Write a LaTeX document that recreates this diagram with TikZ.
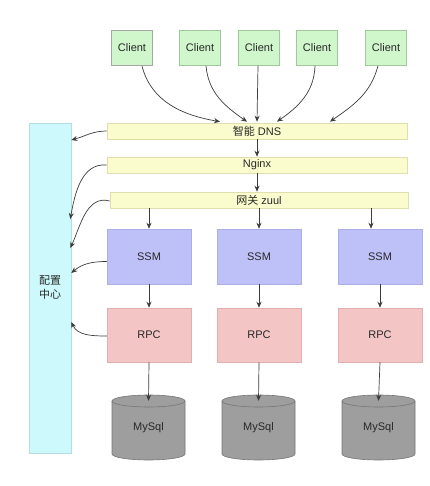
\documentclass[tikz,border=0pt]{standalone}
\usepackage{fontspec}
\setmainfont{Liberation Sans}
\newfontfamily\cjk{Noto Sans CJK SC}
\usetikzlibrary{arrows.meta}
\definecolor{clientfill}{RGB}{208,246,204}
\definecolor{clientline}{RGB}{160,200,155}
\definecolor{barfill}{RGB}{251,252,205}
\definecolor{barline}{RGB}{222,222,175}
\definecolor{cfgfill}{RGB}{206,249,252}
\definecolor{cfgline}{RGB}{180,222,228}
\definecolor{ssmfill}{RGB}{190,192,248}
\definecolor{ssmline}{RGB}{172,174,232}
\definecolor{rpcfill}{RGB}{244,197,197}
\definecolor{rpcline}{RGB}{226,175,175}
\definecolor{dbfill}{RGB}{158,158,158}
\definecolor{dbline}{RGB}{118,118,118}
\definecolor{txt}{RGB}{40,40,40}
\definecolor{arr}{RGB}{60,60,60}
\tikzset{
  every node/.style={font=\fontsize{11}{14}\selectfont, text=txt},
  clientbox/.style={draw=clientline, fill=clientfill, line width=0.6pt, minimum width=41pt, minimum height=35pt, inner sep=0pt},
  barbox/.style={draw=barline, fill=barfill, line width=0.6pt, minimum height=16pt, inner sep=0pt},
  ssmbox/.style={draw=ssmline, fill=ssmfill, line width=0.5pt, minimum width=84pt, minimum height=55pt, inner sep=0pt},
  rpcbox/.style={draw=rpcline, fill=rpcfill, line width=0.5pt, minimum width=84pt, minimum height=54pt, inner sep=0pt},
  dbbox/.style={minimum width=73pt, minimum height=65pt, inner sep=0pt},
  dbshape/.style={draw=dbline, fill=dbfill, line width=0.6pt},
  conn/.style={draw=arr, line width=0.7pt, -{Stealth[length=6pt,width=5pt]}},
}
\begin{document}
\begin{tikzpicture}[x=1pt,y=-1pt]
\useasboundingbox (0,0) rectangle (429,486);
% config centre
\node[draw=cfgline, fill=cfgfill, line width=0.6pt, minimum width=42pt, minimum height=330pt, inner sep=0pt, align=center] (cfg) at (50,288) {\cjk 配置\\\cjk 中心};
% clients
\node[clientbox, draw=gray!70, line width=1.4pt] (c1) at (132,48) {Client};
\node[clientbox] (c2) at (200,48) {Client};
\node[clientbox] (c3) at (259,48) {Client};
\node[clientbox] (c4) at (317,48) {Client};
\node[clientbox] (c5) at (386,48) {Client};
% bars
\node[barbox, minimum width=300pt] (dns) at (257,131) {{\cjk 智能} DNS};
\node[barbox, minimum width=300pt] (ngx) at (257,165) {Nginx};
\node[barbox, minimum width=298pt] (zuul) at (259,200) {{\cjk 网关} zuul};
% services
\node[ssmbox] (s1) at (149,256.5) {SSM};
\node[ssmbox] (s2) at (259,256.5) {SSM};
\node[ssmbox] (s3) at (380,256.5) {SSM};
\node[rpcbox] (r1) at (149,335) {RPC};
\node[rpcbox] (r2) at (259,335) {RPC};
\node[rpcbox] (r3) at (380,335) {RPC};
% databases
\foreach \n/\x in {d1/148.5, d2/258.5, d3/378.5}{
  \path[dbshape] (\x-36.5,401) -- (\x-36.5,454) arc[start angle=180,end angle=360,x radius=36.5pt,y radius=6pt]
     -- (\x+36.5,401) arc[start angle=0,end angle=180,x radius=36.5pt,y radius=6pt] -- cycle;
  \draw[dbline, line width=0.6pt] (\x-36.5,401) arc[start angle=180,end angle=360,x radius=36.5pt,y radius=6pt];
  \node[dbbox] (\n) at (\x,427.5) {MySql};
}
% client arrows
\draw[conn] ([xshift=10pt]c1.south) to[out=-75,in=170] ([xshift=-37pt,yshift=1pt]dns.north);
\draw[conn] ([xshift=6pt]c2.south) to[out=-85,in=145] ([xshift=-10pt,yshift=1pt]dns.north);
\draw[conn] ([xshift=-1pt]c3.south) -- ([yshift=1pt]dns.north);
\draw[conn] ([xshift=-2pt]c4.south) to[out=-92,in=35] ([xshift=20pt,yshift=1pt]dns.north);
\draw[conn] ([xshift=-8pt]c5.south) to[out=-105,in=35] ([xshift=73pt,yshift=1pt]dns.north);
% vertical chain
\draw[conn] (dns.south) -- (ngx.north);
\draw[conn] (ngx.south) -- (ngx.south |- zuul.north);
\draw[conn] (zuul.south -| s1.north) -- (s1.north);
\draw[conn] (zuul.south -| s2.north) -- (s2.north);
\draw[conn] ([xshift=-9pt]zuul.south -| s3.north) -- ([xshift=-9pt]s3.north);
\foreach \i in {1,2,3}{
  \draw[conn] (s\i.south) -- (r\i.north);
  \draw[conn] (r\i.south) -- ([yshift=-6pt]d\i.north);
}
% config arrows
\draw[conn] (dns.west) to[out=180,in=15] ([yshift=148pt]cfg.east);
\draw[conn] (ngx.west) to[out=175,in=80] ([xshift=-1pt,yshift=69pt]cfg.east);
\draw[conn] ([yshift=-1pt]zuul.west) to[out=165,in=65] ([xshift=-1pt,yshift=40pt]cfg.east);
\draw[conn] ([yshift=-5pt]s1.west) to[out=180,in=40] ([yshift=15pt]cfg.east);
\draw[conn] ([yshift=-1pt]r1.west) to[out=180,in=-65] ([yshift=-34pt]cfg.east);
\end{tikzpicture}
\end{document}
